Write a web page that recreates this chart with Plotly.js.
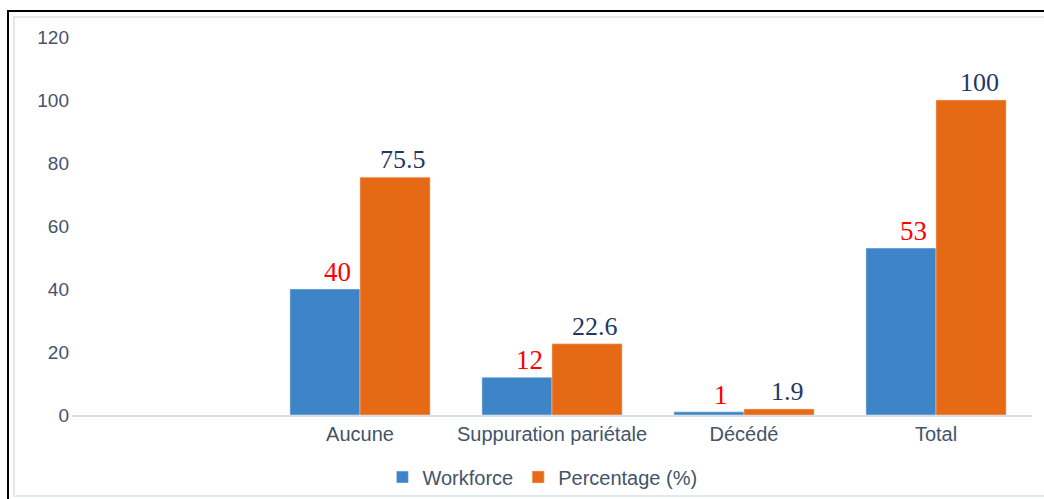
<!DOCTYPE html>
<html>
<head>
<meta charset="utf-8">
<script src="https://cdn.plot.ly/plotly-3.0.1.min.js"></script>
<style>
  html, body { margin: 0; padding: 0; background: #fff; width: 1044px; height: 499px; overflow: hidden; }
  #outer { position: absolute; left: 7px; top: 10px; width: 1100px; height: 600px; border: 2px solid #000; box-sizing: border-box; }
  #inner { position: absolute; left: 13px; top: 16px; width: 1100px; height: 481px; border: 2px solid #e3e8ef; box-sizing: border-box; }
  #chart { position: absolute; left: 0; top: 0; width: 1044px; height: 499px; }
</style>
</head>
<body>
<div id="outer"></div>
<div id="inner"></div>
<div id="chart"></div>
<script>
const categories = ["Aucune", "Suppuration pariétale", "Décédé", "Total"];
const axisCategories = [" ", "Aucune", "Suppuration pariétale", "Décédé", "Total"];
const workforce = [40, 12, 1, 53];
const percentage = [75.5, 22.6, 1.9, 100];
const yTicks = [0, 20, 40, 60, 80, 100, 120];

const tickColor = "#44546a";

const traces = [
  {
    type: "bar", name: "Workforce", x: categories, y: workforce,
    marker: { color: "#3d85c8", line: { color: "#e8eef7", width: 0.5 } },
    hoverinfo: "skip"
  },
  {
    type: "bar", name: "Percentage (%)", x: categories, y: percentage,
    marker: { color: "#e66a15", line: { color: "#f6d2b8", width: 0.5 } },
    hoverinfo: "skip"
  }
];

const annotations = [];
categories.forEach((c, i) => {
  annotations.push({
    x: c, y: workforce[i], xref: "x", yref: "y", text: String(workforce[i]),
    showarrow: false, xanchor: "center", yanchor: "bottom", xshift: -23, yshift: 0,
    font: { family: "Liberation Serif, Times New Roman, serif", size: 27, color: "#ff0000" }
  });
  annotations.push({
    x: c, y: percentage[i], xref: "x", yref: "y", text: String(percentage[i]),
    showarrow: false, xanchor: "center", yanchor: "bottom", xshift: 43, yshift: 1,
    font: { family: "Liberation Serif, Times New Roman, serif", size: 26, color: "#1f3864" }
  });
});

const layout = {
  width: 1044, height: 499,
  margin: { l: 72, r: 12, t: 37, b: 84, pad: 0 },
  paper_bgcolor: "rgba(0,0,0,0)", plot_bgcolor: "rgba(0,0,0,0)",
  barmode: "group", bargap: 0.27, bargroupgap: 0,
  font: { family: "Liberation Sans, Arial, sans-serif", color: tickColor },
  xaxis: {
    type: "category", categoryorder: "array", categoryarray: axisCategories,
    range: [-0.5, 4.5], showgrid: false, zeroline: false,
    showline: true, linecolor: "#d9dee6", linewidth: 1.5,
    ticks: "", tickfont: { size: 20, color: tickColor }
  },
  yaxis: {
    range: [0, 120], tickvals: yTicks, ticktext: yTicks.map(String),
    showgrid: false, zeroline: false, showline: false, ticks: "",
    tickfont: { size: 19, color: tickColor }, ticklabelstandoff: 2
  },
  showlegend: true,
  legend: {
    orientation: "h", x: 0.49, xanchor: "center", yref: "container", y: 0.044, yanchor: "middle",
    font: { size: 20, color: tickColor }, itemwidth: 30, traceorder: "normal"
  },
  annotations: annotations
};

Plotly.newPlot("chart", traces, layout, { staticPlot: true, displayModeBar: false });
</script>
</body>
</html>
